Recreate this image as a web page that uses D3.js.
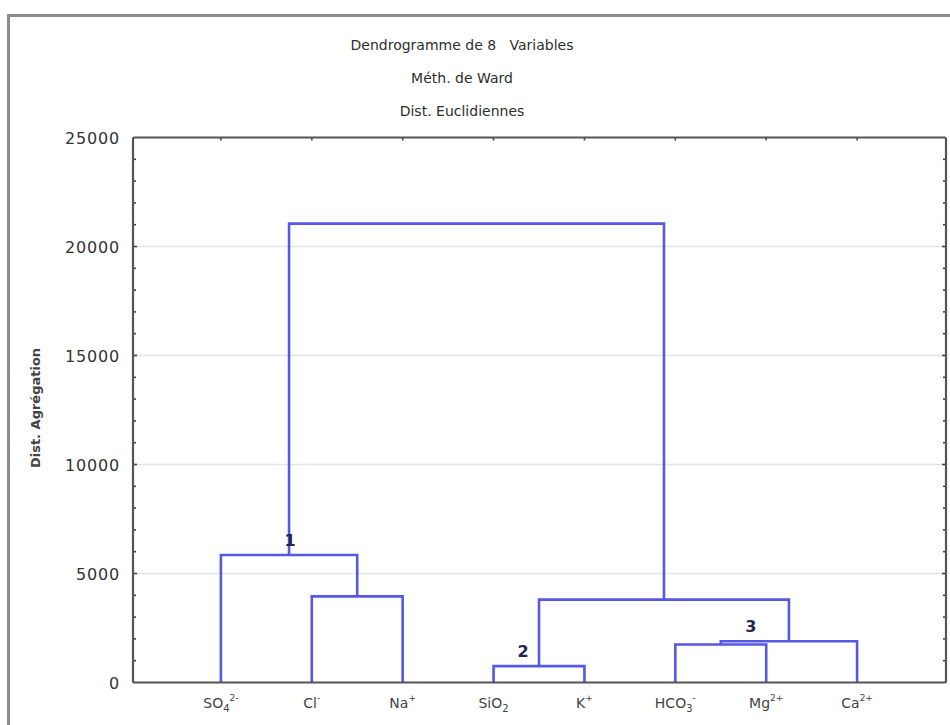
<!DOCTYPE html>
<html>
<head>
<meta charset="utf-8">
<script src="https://cdn.jsdelivr.net/npm/d3@7"></script>
<style>
  html, body { margin: 0; padding: 0; background: #fff; }
  svg { display: block; }
  text { font-family: "DejaVu Sans", Verdana, sans-serif; }
</style>
</head>
<body>
<svg id="chart" width="950" height="725"></svg>
<script>
// Variables (leaves), written as base text + subscript + superscript
const leafNames = ["SO4", "Cl", "Na", "SiO2", "K", "HCO3", "Mg", "Ca"];
const leafBase  = ["SO", "Cl", "Na", "SiO", "K", "HCO", "Mg", "Ca"];
const leafSub   = ["4", "", "", "2", "", "3", "", ""];
const leafSup   = ["2-", "-", "+", "", "+", "-", "2+", "2+"];

// Ward linkage: [left node, right node, aggregation distance]
// nodes 0..7 are leaves, merge i creates node 8+i
const mergeLeft   = [1, 3, 5, 10, 0, 9, 12];
const mergeRight  = [2, 4, 6, 7, 8, 11, 13];
const mergeHeight = [3950, 750, 1740, 1895, 5850, 3800, 21050];

// Numbered groups: node id and its label
const groupNodes  = [12, 9, 11];
const groupLabels = ["1", "2", "3"];

const yTicks = [0, 5000, 10000, 15000, 20000, 25000];
const titleLines = ["Dendrogramme de 8   Variables", "Méth. de Ward", "Dist. Euclidiennes"];
const yTitle = "Dist. Agrégation";

const svg = d3.select("#chart");
const plot = { left: 133, right: 946, top: 137.5, bottom: 682.5 };

// Outer window frame
svg.append("rect")
  .attr("x", 8.5).attr("y", 15.5).attr("width", 980).attr("height", 740)
  .attr("fill", "#fff").attr("stroke", "#8c8c8c").attr("stroke-width", 3);

// Title
svg.append("g").selectAll("text").data(titleLines).join("text")
  .attr("x", 462).attr("y", (d, i) => 50 + i * 33)
  .attr("text-anchor", "middle")
  .attr("font-size", 14).attr("fill", "#2e2e2e")
  .style("white-space", "pre")
  .text(d => d);

const x = d3.scalePoint().domain(leafNames).range([130, 948]).padding(1);
const y = d3.scaleLinear().domain([0, 25000]).range([plot.bottom, plot.top]);

// Grid lines
svg.append("g").selectAll("line").data(yTicks.filter(t => t > 0 && t < 25000)).join("line")
  .attr("x1", plot.left).attr("x2", plot.right)
  .attr("y1", d => y(d)).attr("y2", d => y(d))
  .attr("stroke", "#e4e4e4").attr("stroke-width", 1.5);

// Minor / major ticks on left and right sides (inside)
const minor = d3.range(1000, 25000, 1000);
const tickG = svg.append("g").attr("stroke", "#444");
tickG.selectAll(".tl").data(minor).join("line")
  .attr("x1", plot.left).attr("x2", d => plot.left + (d % 5000 === 0 ? 4 : 3))
  .attr("y1", d => y(d)).attr("y2", d => y(d)).attr("stroke-width", 1.6);
tickG.selectAll(".tr").data(minor).join("line")
  .attr("x1", plot.right).attr("x2", d => plot.right - (d % 5000 === 0 ? 4 : 3))
  .attr("y1", d => y(d)).attr("y2", d => y(d)).attr("stroke-width", 1.6);
// Category ticks on top
tickG.selectAll(".tt").data(leafNames).join("line")
  .attr("x1", d => x(d)).attr("x2", d => x(d))
  .attr("y1", plot.top).attr("y2", plot.top + 3).attr("stroke-width", 1.6);

// Y tick labels
svg.append("g").selectAll("text").data(yTicks).join("text")
  .attr("x", 120).attr("y", d => y(d) + 6)
  .attr("text-anchor", "end")
  .attr("font-size", 16).attr("letter-spacing", 0.8)
  .attr("fill", "#333")
  .text(d => d);

// Y axis title
svg.append("text")
  .attr("transform", `translate(40,${(plot.top + plot.bottom) / 2 - 2}) rotate(-90)`)
  .attr("text-anchor", "middle")
  .attr("font-size", 13).attr("font-weight", "bold").attr("fill", "#444")
  .text(yTitle);

// Dendrogram geometry
const nodeX = [], nodeH = [];
leafNames.forEach((n, i) => { nodeX[i] = x(n); nodeH[i] = 0; });
mergeHeight.forEach((h, i) => {
  const l = mergeLeft[i], r = mergeRight[i];
  nodeX[8 + i] = (nodeX[l] + nodeX[r]) / 2;
  nodeH[8 + i] = h;
});

const links = mergeHeight.map((h, i) => {
  const l = mergeLeft[i], r = mergeRight[i];
  const p = d3.path();
  p.moveTo(nodeX[l], y(nodeH[l]));
  p.lineTo(nodeX[l], y(h));
  p.lineTo(nodeX[r], y(h));
  p.lineTo(nodeX[r], y(nodeH[r]));
  return p.toString();
});

svg.append("g").selectAll("path").data(links).join("path")
  .attr("d", d => d)
  .attr("fill", "none").attr("stroke", "#5757e6").attr("stroke-width", 2.6)
  .attr("stroke-linejoin", "miter");

// Plot frame
svg.append("rect")
  .attr("x", plot.left).attr("y", plot.top)
  .attr("width", plot.right - plot.left).attr("height", plot.bottom - plot.top)
  .attr("fill", "none").attr("stroke", "#555").attr("stroke-width", 2.2).attr("rx", 1.5);

// Group numbers, set just above their merge
const groupShift = [1, -16, -38];
svg.append("g").selectAll("text").data(groupNodes).join("text")
  .attr("x", (d, i) => nodeX[d] + groupShift[i])
  .attr("y", d => y(nodeH[d]) - 9)
  .attr("text-anchor", "middle")
  .attr("font-family", "'Liberation Serif', 'DejaVu Serif', serif")
  .attr("font-size", 16).attr("font-weight", "bold").attr("fill", "#22244a")
  .text((d, i) => groupLabels[i]);

// X labels with sub/superscripts
const lab = svg.append("g").selectAll("text").data(leafNames).join("text")
  .attr("x", d => x(d)).attr("y", 708)
  .attr("text-anchor", "middle")
  .attr("font-size", 14).attr("fill", "#444");
lab.each(function(d, i) {
  const t = d3.select(this);
  t.append("tspan").text(leafBase[i]);
  if (leafSub[i]) t.append("tspan").attr("font-size", 10).attr("dy", 4).text(leafSub[i]);
  if (leafSup[i]) t.append("tspan").attr("font-size", 9)
    .attr("dy", leafSub[i] ? -11 : -7).text(leafSup[i]);
});
</script>
</body>
</html>
